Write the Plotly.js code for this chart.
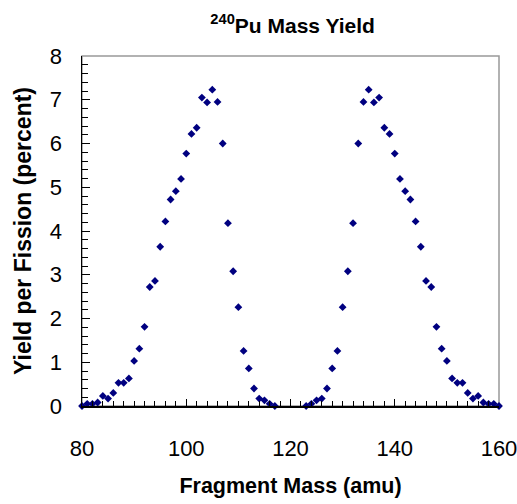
<!DOCTYPE html>
<html>
<head>
<meta charset="utf-8">
<script src="https://cdn.plot.ly/plotly-3.0.1.min.js"></script>
<style>
  html, body { margin: 0; padding: 0; background: #fff; }
  #chart { width: 517px; height: 504px; }
</style>
</head>
<body>
<div id="chart"></div>
<script>
// Light-fragment peak
const massLeft = [80,81,82,83,84,85,86,87,88,89,90,91,92,93,94,95,96,97,98,99,100,101,102,103,104,105,106,107,108,109,110,111,112,113,114,115,116,117];
const yieldLeft = [0.00,0.05,0.05,0.08,0.23,0.17,0.30,0.53,0.53,0.63,1.03,1.31,1.81,2.72,2.86,3.64,4.22,4.72,4.91,5.19,5.77,6.22,6.36,7.05,6.94,7.23,6.95,6.00,4.18,3.08,2.26,1.26,0.86,0.40,0.17,0.13,0.05,0.00];
// Heavy-fragment peak
const massRight = [123,124,125,126,127,128,129,130,131,132,133,134,135,136,137,138,139,140,141,142,143,144,145,146,147,148,149,150,151,152,153,154,155,156,157,158,159,160];
const yieldRight = [0.00,0.05,0.13,0.17,0.40,0.86,1.26,2.26,3.08,4.18,6.00,6.95,7.23,6.94,7.05,6.36,6.22,5.77,5.19,4.91,4.72,4.22,3.64,2.86,2.72,1.81,1.31,1.03,0.63,0.53,0.53,0.30,0.17,0.23,0.08,0.05,0.05,0.00];

const xTickVals = [80,100,120,140,160];
const yTickVals = [0,1,2,3,4,5,6,7,8];

const FONT = 'Liberation Sans, Arial, sans-serif';

const trace = {
  x: massLeft.concat(massRight),
  y: yieldLeft.concat(yieldRight),
  type: 'scatter',
  mode: 'markers',
  cliponaxis: false,
  marker: { symbol: 'diamond', size: 6, color: '#000080', line: { width: 0 } },
  hoverinfo: 'x+y'
};

const layout = {
  width: 517,
  height: 504,
  paper_bgcolor: '#ffffff',
  plot_bgcolor: '#ffffff',
  margin: { l: 82, r: 18, t: 56, b: 98 },
  showlegend: false,
  font: { family: FONT, color: '#000' },
  title: {
    text: '<b><sup>240</sup>Pu Mass Yield</b>',
    font: { family: FONT, size: 21, color: '#000' },
    xref: 'container', x: 0.566, xanchor: 'center',
    yref: 'container', y: 0.95, yanchor: 'middle'
  },
  xaxis: {
    range: [80, 160],
    tickvals: xTickVals,
    ticktext: xTickVals.map(String),
    ticks: 'inside', ticklen: 7, tickwidth: 1, tickcolor: '#000',
    minor: { dtick: 2, tick0: 80, ticks: 'inside', ticklen: 5, tickwidth: 1, tickcolor: '#000', showgrid: false },
    showline: true, linecolor: '#000', linewidth: 1.5,
    showgrid: false, zeroline: false,
    ticklabelstandoff: 22,
    ticklabeloverflow: 'allow',
    tickfont: { family: FONT, size: 22, color: '#000' },
    title: { text: '<b>Fragment Mass (amu)</b>', font: { family: FONT, size: 21.5, color: '#000' }, standoff: 18 }
  },
  yaxis: {
    range: [0, 8],
    tickvals: yTickVals,
    ticktext: yTickVals.map(String),
    ticks: 'inside', ticklen: 8, tickwidth: 1, tickcolor: '#000',
    minor: { dtick: 0.2, tick0: 0, ticks: 'inside', ticklen: 6, tickwidth: 1, tickcolor: '#000', showgrid: false },
    showline: true, linecolor: '#000', linewidth: 1.5,
    showgrid: false, zeroline: false,
    ticklabelstandoff: 14,
    ticklabeloverflow: 'allow',
    tickfont: { family: FONT, size: 22, color: '#000' },
    title: { text: '<b>Yield per Fission (percent)</b>', font: { family: FONT, size: 23, color: '#000' }, standoff: 12 }
  },
  shapes: [{
    type: 'rect', xref: 'paper', yref: 'paper', x0: 0, x1: 1, y0: 0, y1: 1,
    line: { color: '#999999', width: 1.5 }, layer: 'below'
  }]
};

Plotly.newPlot('chart', [trace], layout, { displayModeBar: false, staticPlot: true });
</script>
</body>
</html>
